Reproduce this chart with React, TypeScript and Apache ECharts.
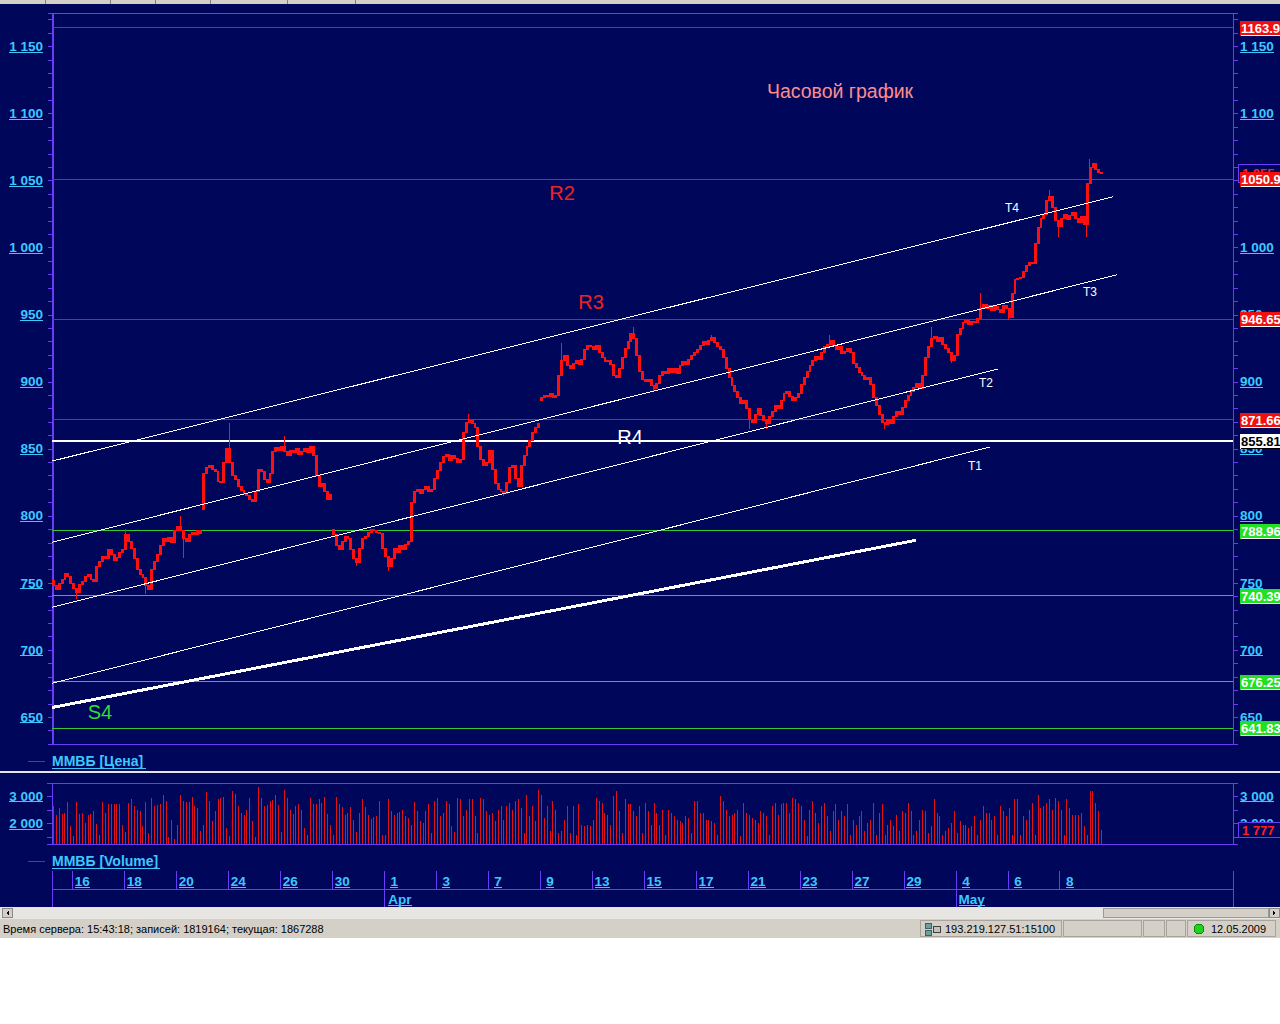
import React, { useEffect, useRef } from "react";
import * as echarts from "echarts";

// ---------- trading days (hourly bars) ----------
const dayDates = [13, 16, 17, 18, 19, 20, 23, 24, 25, 26, 27, 30, 31, 1, 2, 3, 6, 7, 8, 9, 10, 13, 14, 15, 16, 17, 20, 21, 22, 23, 24, 27, 28, 29, 30, 4, 5, 6, 7, 8, 12];
const dayMonths = [3, 3, 3, 3, 3, 3, 3, 3, 3, 3, 3, 3, 3, 4, 4, 4, 4, 4, 4, 4, 4, 4, 4, 4, 4, 4, 4, 4, 4, 4, 4, 4, 4, 4, 4, 5, 5, 5, 5, 5, 5];
const barsPerDay = [7, 9, 9, 9, 9, 9, 9, 9, 9, 9, 9, 9, 9, 9, 9, 9, 9, 9, 9, 9, 9, 9, 9, 9, 9, 9, 9, 9, 9, 9, 9, 9, 9, 9, 9, 9, 9, 9, 9, 9, 6];
const firstHour = [12, 10, 10, 10, 10, 10, 10, 10, 10, 10, 10, 10, 10, 10, 10, 10, 10, 10, 10, 10, 10, 10, 10, 10, 10, 10, 10, 10, 10, 10, 10, 10, 10, 10, 10, 10, 10, 10, 10, 10, 10];
const monthNames: Record<number, string> = { 4: "Apr", 5: "May" };
const TOTAL_SLOTS = 409;

// ---------- ММВБ hourly closes ----------
const closes = [
  748, 745, 750, 753, 757, 755, 750, // 13 Mar
  746, 743, 749, 751, 755, 756, 753, 751, 762, // 16
  766, 770, 768, 775, 771, 767, 769, 773, 775, // 17
  786, 781, 776, 768, 760, 756, 754, 748, 745, // 18
  760, 766, 771, 778, 783, 781, 784, 780, 789, // 19
  792, 789, 783, 781, 786, 788, 786, 789, 787, // 20
  832, 836, 838, 835, 833, 826, 825, 840, 850, // 23
  840, 830, 827, 822, 819, 817, 815, 812, 811, // 24
  818, 835, 833, 827, 825, 832, 848, 851, 849, // 25
  852, 848, 845, 849, 847, 850, 846, 848, 850, // 26
  847, 852, 845, 830, 822, 824, 818, 812, 816, // 27
  786, 778, 775, 781, 785, 783, 775, 768, 765, // 30
  776, 783, 785, 788, 790, 789, 788, 787, 776, // 31
  770, 762, 768, 776, 773, 778, 775, 779, 781, // 1 Apr
  810, 818, 820, 817, 820, 822, 818, 820, 828, // 2
  834, 840, 844, 846, 841, 845, 843, 840, 842, // 3
  862, 870, 871, 869, 866, 852, 842, 838, 840, // 6
  849, 835, 824, 820, 818, 817, 825, 836, 838, // 7
  828, 822, 838, 845, 852, 856, 862, 866, 869, // 8
  888, 890, 889, 891, 888, 890, 905, 916, 920, // 9
  912, 910, 914, 916, 913, 917, 924, 927, 926, // 10
  924, 927, 922, 918, 915, 916, 913, 905, 903, // 13
  910, 918, 925, 930, 936, 932, 920, 908, 902, // 14
  900, 902, 897, 895, 899, 905, 908, 906, 910, // 15
  907, 910, 906, 912, 915, 913, 917, 920, 922, // 16
  924, 927, 930, 928, 931, 933, 929, 926, 924, // 17
  918, 910, 903, 897, 893, 888, 884, 886, 880, // 20
  872, 870, 876, 880, 875, 871, 869, 874, 878, // 21
  882, 880, 886, 891, 893, 889, 886, 888, 891, // 22
  898, 903, 908, 912, 916, 919, 917, 922, 926, // 23
  928, 931, 927, 924, 926, 921, 923, 925, 922, // 24
  914, 911, 907, 905, 902, 903, 898, 888, 882, // 27
  876, 870, 868, 872, 869, 874, 878, 876, 881, // 28
  886, 890, 893, 896, 899, 895, 905, 918, 926, // 29
  932, 934, 930, 933, 928, 925, 922, 916, 920, // 30
  935, 940, 944, 946, 943, 945, 944, 947, 955, // 4 May
  958, 955, 957, 953, 956, 954, 952, 957, 955, // 5
  948, 966, 976, 977, 978, 982, 987, 989, 988, // 6
  1003, 1015, 1022, 1025, 1035, 1038, 1030, 1020, 1016, // 7
  1022, 1025, 1021, 1024, 1026, 1022, 1019, 1023, 1017, // 8
  1048, 1060, 1063, 1058, 1056, 1055, // 12
];
const firstOpen = 752;
const gapOpenIdx = [52, 97, 169];
const gapOpenVal = [805, 790, 886];
const spikeHighIdx = [25, 44, 61, 80, 144, 176, 201, 228, 269, 304, 321, 345, 359];
const spikeHighVal = [790, 800, 869, 860, 876, 929, 941, 935, 935, 941, 966, 1043, 1066];
const spikeLowIdx = [8, 32, 45, 105, 116, 156, 208, 241, 247, 288, 311, 331, 348, 358];
const spikeLowVal = [738, 742, 769, 763, 759, 815, 893, 865, 865, 865, 914, 946, 1008, 1008];

// ---------- volume ----------
const volumes = [
  2630, 2300, 2570, 2350, 2390, 2780, 1900, 1540, 2790, 2370,
  2390, 2020, 2330, 2350, 2450, 2000, 1600, 2790, 2390, 2720,
  2720, 2720, 2720, 2700, 1960, 1700, 2760, 2880, 2630, 2510,
  2450, 1900, 2790, 1660, 2920, 2630, 2670, 2700, 3040, 2820,
  1500, 2150, 1450, 1960, 3040, 2820, 2790, 2790, 2960, 2630,
  2570, 1720, 1960, 3150, 2840, 2090, 2450, 2880, 2940, 2960,
  1840, 1540, 3180, 3090, 2630, 2390, 2300, 2480, 2940, 2090,
  1500, 3330, 2940, 2630, 2670, 2840, 2850, 3040, 2670, 1700,
  3230, 2940, 2480, 2350, 2630, 2700, 2500, 1840, 1600, 2920,
  2720, 2700, 2880, 2760, 2960, 2350, 1960, 1570, 2960, 2700,
  2600, 2330, 2390, 2600, 2150, 1700, 2390, 2880, 2600, 2330,
  2180, 2230, 2270, 2820, 1600, 1600, 2910, 2450, 2330, 2390,
  2430, 2500, 2270, 2210, 1960, 2790, 2450, 2090,
  2020, 2450, 2700, 1660, 2820, 2940, 2270, 2390, 2820, 2700,
  1900, 1680, 2950, 2880, 2270, 2510, 2880, 2880, 2270, 1660,
  2950, 2880, 2450, 2330, 2390, 2090, 2510, 2630, 2150, 2630,
  2760, 2510, 2820, 2880, 2570, 1660, 3060, 2270, 2630, 2090,
  3240, 3060, 2210, 2630, 1720, 2820, 2510, 1660, 1720, 2150,
  2630, 1660, 2630, 1600, 2700, 1960, 1900, 1960, 1900, 2150,
  2940, 2820, 2760, 2390, 2330, 1960, 3000, 3180, 2450, 1660,
  2880, 2700, 2700, 2450, 2270, 2630, 1660, 2760, 2450, 1960,
  2760, 2390, 1960, 2510, 1600, 2510, 2390, 2270, 2150, 2090,
  2020, 2270, 2210, 1660, 2820, 2820, 2390, 2390, 2150, 2150,
  2090, 2020, 1600, 3000, 2820, 2510, 2270, 2330, 2390, 2510,
  1540, 2760, 2390, 2330, 2210, 2150, 2020, 2450, 2390, 2270,
  1600, 2630, 2760, 2330, 2700, 2760, 2760, 2390, 2940, 2880,
  2760, 2630, 2150, 1540, 2510, 2820, 2390, 2020, 2630, 2760,
  2270, 1720, 2450, 2700, 2150,
  2450, 2270, 2700, 1600, 2150, 1960, 2270, 2450, 1720, 2020,
  2150, 2760, 1600, 2390, 2700, 1600, 1960, 2150, 1900, 2330,
  1720, 2450, 2390, 2760, 2450, 1600, 1720, 2150, 2510, 2450,
  1660, 1900, 2880, 2390, 2270, 1600, 1720, 1840, 2020, 2450,
  1660, 2090, 1960, 1960, 1840, 1900, 2270, 1600, 2150, 2630,
  2390, 2390, 2150, 2270, 1600, 2630, 2450, 2270, 2570, 1600,
  2880, 2880, 1600, 2270, 2150, 2510, 2760, 1600, 3060, 2570,
  2630, 2760, 2880, 2510, 2940, 2820, 2510, 1600, 2880, 2570,
  2330, 2330, 2330, 2390, 1900, 1600, 3180, 3180, 2760, 2450,
  1777,
];

// ---------- levels & trend lines ----------
const levelValues = [1163.9, 1050.9, 946.65, 871.66, 855.81, 788.96, 740.39, 676.25, 641.83];
const levelKinds = ["r", "r", "r", "r", "w", "g", "g", "g", "g"];
const trendX0 = [-0.5, -0.5, -0.5, -0.5, -0.5];
const trendY0 = [840.9, 780.4, 731.9, 675.2, 657.2];
const trendX1 = [366.9, 368.3, 327.1, 324.3, 298.7];
const trendY1 = [1038.0, 979.8, 909.6, 851.4, 781.9];
const trendWidth = [1, 1, 1, 1, 3];

// ---------- styling ----------
const NAVY = "#00065a";
const VIOLET = "#6a3cf5";
const CYAN = "#3cc8ff";
const FONT = "'Liberation Sans', Arial, sans-serif";
const RED = "#ff1010";
const LABEL_SIZE = 13.5;

const fmtNum = (v: number) => {
  const r = Math.round(v);
  const s = String(r);
  return r >= 1000 ? s.slice(0, s.length - 3) + " " + s.slice(-3) : s;
};

const text = (t: string, x: number, y: number, fill: string, size: number, extra: any = {}, z = 10) => ({
  type: "text", x, y, silent: true, z,
  style: { text: t, fill, fontSize: size, fontFamily: FONT, align: "center", verticalAlign: "middle", ...extra },
});
const rect = (x: number, y: number, w: number, h: number, fill: string, stroke?: string, z = 10) => ({
  type: "rect", silent: true, z,
  shape: { x, y, width: w, height: h },
  style: { fill, stroke: stroke || null, lineWidth: 1 },
});
const line = (x1: number, y1: number, x2: number, y2: number, stroke: string, w = 1, z = 10) => ({
  type: "line", silent: true, z,
  shape: { x1, y1, x2, y2 },
  style: { stroke, lineWidth: w },
});

function buildModel() {
  const cats: string[] = [];
  const dayStart: number[] = [];
  dayDates.forEach((d, k) => {
    dayStart.push(cats.length);
    for (let h = 0; h < barsPerDay[k]; h++) {
      cats.push(`${d}.${dayMonths[k]} ${firstHour[k] + h}:00`);
    }
  });
  const nBars = cats.length;
  for (let i = nBars; i < TOTAL_SLOTS; i++) cats.push(`slot ${i}`);

  const daySep = new Set<number>();
  const dayLabel = new Map<number, string>();
  for (let k = 1; k < dayDates.length - 1; k += 2) {
    daySep.add(dayStart[k]);
    dayLabel.set(dayStart[k] + 3, String(dayDates[k]));
  }
  const monthSep = new Set<number>();
  const monthLabel = new Map<number, string>();
  for (let k = 1; k < dayDates.length; k++) {
    if (dayMonths[k] !== dayMonths[k - 1] && monthNames[dayMonths[k]]) {
      monthSep.add(dayStart[k]);
      monthLabel.set(dayStart[k] + 5, monthNames[dayMonths[k]]);
    }
  }
  return { cats, daySep, dayLabel, monthSep, monthLabel };
}

const levelColor = (kind: string) => (kind === "r" ? "#d8141e" : kind === "w" ? "#ffffff" : "#34c834");

function buildOption(m: ReturnType<typeof buildModel>) {
  const { cats, daySep, dayLabel, monthSep, monthLabel } = m;

  const ohlc = closes.map((c, i) => {
    const gi = gapOpenIdx.indexOf(i);
    const o = gi >= 0 ? gapOpenVal[gi] : i === 0 ? firstOpen : closes[i - 1];
    const hi = spikeHighIdx.indexOf(i);
    const lo = spikeLowIdx.indexOf(i);
    const high = Math.max(o, c, hi >= 0 ? spikeHighVal[hi] : -Infinity);
    const low = Math.min(o, c, lo >= 0 ? spikeLowVal[lo] : Infinity);
    return [o, c, low, high];
  });

  const labelBase = { fontFamily: FONT, fontWeight: "bold", fontSize: LABEL_SIZE, color: CYAN };

  const levelSeries = levelValues.map((v, k) => ({
    type: "line",
    name: "level " + v,
    xAxisIndex: 1,
    yAxisIndex: 0,
    data: [[-0.5, v], [TOTAL_SLOTS - 0.5, v]],
    symbol: "none",
    silent: true,
    z: 2,
    color: levelColor(levelKinds[k]),
    itemStyle: { color: levelColor(levelKinds[k]) },
    lineStyle: { color: levelColor(levelKinds[k]), width: levelKinds[k] === "w" ? 2 : 1, opacity: 1 },
  }));

  const trendSeries = trendX0.map((x0, k) => ({
    type: "line",
    xAxisIndex: 1,
    yAxisIndex: 0,
    data: [[x0, trendY0[k]], [trendX1[k], trendY1[k]]],
    symbol: "none",
    silent: true,
    z: 4,
    color: "#ffffff",
    lineStyle: { color: "#ffffff", width: trendWidth[k] },
  }));

  const priceFmt = (v: number) => (Math.round(v) % 50 === 0 ? fmtNum(v) : "");
  const volFmt = (v: number) => (Math.round(v) % 1000 === 0 ? fmtNum(v) : "");

  const priceY = (pos: string, margin: number) => ({
    type: "value", gridIndex: 0, min: 630, max: 1175, interval: 10, position: pos,
    axisLine: { show: true, lineStyle: { color: VIOLET } },
    axisTick: { show: true, length: 5, lineStyle: { color: VIOLET } },
    splitLine: { show: false },
    axisLabel: { ...labelBase, margin, formatter: priceFmt },
  });
  const volY = (pos: string, margin: number) => ({
    type: "value", gridIndex: 1, min: 1260, max: 3480, splitNumber: 5, position: pos,
    axisLine: { show: true, lineStyle: { color: VIOLET } },
    axisTick: { show: true, length: 5, lineStyle: { color: VIOLET } },
    splitLine: { show: false },
    axisLabel: { ...labelBase, margin, formatter: volFmt },
  });
  const dummyY = (g: number) => ({
    type: "value", gridIndex: g, min: 0, max: 1,
    axisLine: { show: true, lineStyle: { color: VIOLET } },
    axisTick: { show: false }, axisLabel: { show: false }, splitLine: { show: false },
  });

  return {
    animation: false,
    backgroundColor: NAVY,
    grid: [
      { left: 52, top: 13, width: 1181, height: 731, show: true, borderColor: VIOLET, borderWidth: 1, backgroundColor: "transparent" },
      { left: 52, top: 783, width: 1181, height: 61, show: true, borderColor: VIOLET, borderWidth: 1, backgroundColor: "transparent" },
      { left: 52, top: 871, width: 1181, height: 18 },
      { left: 52, top: 889, width: 1181, height: 18 },
    ],
    xAxis: [
      { type: "category", gridIndex: 0, data: cats, show: false },
      { type: "value", gridIndex: 0, min: -0.5, max: TOTAL_SLOTS - 0.5, show: false },
      { type: "category", gridIndex: 1, data: cats, show: false },
      {
        type: "category", gridIndex: 2, data: cats, position: "top",
        axisLine: { show: true, lineStyle: { color: VIOLET } },
        axisTick: { show: false },
        splitLine: { show: true, interval: (i: number) => daySep.has(i), lineStyle: { color: VIOLET, width: 1 } },
        axisLabel: { ...labelBase, inside: true, margin: 3, interval: (i: number) => dayLabel.has(i), formatter: (_v: string, i: number) => dayLabel.get(i) || "" },
      },
      {
        type: "category", gridIndex: 3, data: cats, position: "top",
        axisLine: { show: true, lineStyle: { color: VIOLET } },
        axisTick: { show: false },
        splitLine: { show: true, interval: (i: number) => monthSep.has(i), lineStyle: { color: VIOLET, width: 1 } },
        axisLabel: { ...labelBase, inside: true, margin: 3, interval: (i: number) => monthLabel.has(i), formatter: (_v: string, i: number) => monthLabel.get(i) || "" },
      },
    ],
    yAxis: [priceY("left", 9), priceY("right", 7), volY("left", 9), volY("right", 7), dummyY(2), dummyY(3)],
    series: [
      ...levelSeries,
      {
        type: "candlestick",
        xAxisIndex: 0,
        yAxisIndex: 0,
        data: ohlc,
        barWidth: 2.4,
        z: 3,
        itemStyle: { color: RED, color0: RED, borderColor: RED, borderColor0: RED, borderWidth: 1 },
      },
      {
        type: "bar",
        xAxisIndex: 2,
        yAxisIndex: 2,
        data: volumes,
        barWidth: 1,
        itemStyle: { color: "#e41018" },
      },
      ...trendSeries,
    ],
    graphic: baseGraphic(),
  };
}

function baseGraphic(): any[] {
  return [
    // window chrome
    rect(0, 0, 1280, 4, "#d4d0c8"),
    line(45, 0, 45, 4, "#808080"), line(110, 0, 110, 4, "#808080"), line(155, 0, 155, 4, "#808080"),
    line(210, 0, 210, 4, "#808080"), line(287, 0, 287, 4, "#808080"), line(355, 0, 355, 4, "#808080"),
    rect(0, 771, 1280, 2, "#e4e4e4"),
    // legends
    line(28, 761, 45, 761, "#e01010"),
    text("ММВБ [Цена]", 52, 761, CYAN, 14, { align: "left", fontWeight: "bold" }),
    line(52, 768, 146, 768, CYAN),
    line(28, 861, 45, 861, "#e01010"),
    text("ММВБ [Volume]", 52, 861, CYAN, 14, { align: "left", fontWeight: "bold" }),
    line(52, 868, 160, 868, CYAN),
    // annotations
    text("Часовой график", 840, 91, "#ff8c8c", 19.5),
    text("R2", 562, 193, "#ee2222", 20),
    text("R3", 591, 302, "#ee2222", 20),
    text("R4", 630, 437, "#ffffff", 20),
    text("S4", 100, 712, "#33dd33", 20),
    text("T4", 1012, 208, "#ffffff", 12),
    text("T3", 1090, 292, "#ffffff", 12),
    text("T2", 986, 383, "#ffffff", 12),
    text("T1", 975, 466, "#ffffff", 12),
    // scrollbar
    rect(0, 907, 1280, 12, "#e8e6e2"),
    rect(2.5, 908.5, 10, 9, "#d4d0c8", "#8a8a8a"),
    { type: "polygon", silent: true, z: 11, shape: { points: [[9, 910.5], [9, 915.5], [6, 913]] }, style: { fill: "#000" } },
    rect(1103.5, 908.5, 165, 9, "#d4d0c8", "#9a9a9a"),
    rect(1269.5, 908.5, 10, 9, "#d4d0c8", "#8a8a8a"),
    { type: "polygon", silent: true, z: 11, shape: { points: [[1273, 910.5], [1273, 915.5], [1276, 913]] }, style: { fill: "#000" } },
    // status bar
    rect(0, 919, 1280, 19, "#d4d0c8"),
    rect(0, 938, 1280, 86, "#ffffff"),
    text("Время сервера: 15:43:18; записей: 1819164; текущая: 1867288", 3, 929, "#000000", 11, { align: "left" }),
    rect(920.5, 920.5, 141, 16, "none", "#a8a49c"),
    rect(925, 923, 6, 5, "#6aa0a0", "#406060"),
    rect(925, 930, 6, 5, "#6aa0a0", "#406060"),
    rect(933, 926, 7, 6, "#c0c0c0", "#404040"),
    text("193.219.127.51:15100", 945, 929, "#000000", 11, { align: "left" }),
    rect(1063.5, 920.5, 78, 16, "none", "#a8a49c"),
    rect(1143.5, 920.5, 21, 16, "none", "#a8a49c"),
    rect(1166.5, 920.5, 19, 16, "none", "#a8a49c"),
    rect(1187.5, 920.5, 88, 16, "none", "#a8a49c"),
    { type: "circle", silent: true, z: 11, shape: { cx: 1199, cy: 929, r: 5 }, style: { fill: "#1ed21e", stroke: "#0a8a0a" } },
    text("12.05.2009", 1211, 929, "#000000", 11, { align: "left" }),
  ];
}

// axis-label underlines and right-edge value tags, positioned through the axes' own scales
function extras(chart: any, m: ReturnType<typeof buildModel>): any[] {
  const ctx = document.createElement("canvas").getContext("2d");
  if (!ctx) return [];
  ctx.font = `bold ${LABEL_SIZE}px 'Liberation Sans', Arial, sans-serif`;
  const out: any[] = [];
  const addY = (axisIdx: number, values: number[]) => {
    values.forEach((v) => {
      const y = Math.round(chart.convertToPixel({ yAxisIndex: axisIdx }, v)) + 5.5;
      const w = ctx.measureText(fmtNum(v)).width;
      out.push(line(43 - w, y, 43, y, CYAN, 1, 1));
      out.push(line(1240, y, 1240 + w, y, CYAN, 1, 1));
    });
  };
  const pv: number[] = [];
  for (let v = 650; v <= 1150; v += 50) pv.push(v);
  addY(0, pv);
  addY(2, [2000, 3000]);
  m.dayLabel.forEach((t, i) => {
    const x = chart.convertToPixel({ xAxisIndex: 3 }, i);
    const w = ctx.measureText(t).width;
    out.push(line(x - w / 2, 887.5, x + w / 2, 887.5, CYAN, 1, 1));
  });
  m.monthLabel.forEach((t, i) => {
    const x = chart.convertToPixel({ xAxisIndex: 4 }, i);
    const w = ctx.measureText(t).width;
    out.push(line(x - w / 2, 905.5, x + w / 2, 905.5, CYAN, 1, 1));
  });

  // last price box (behind the level tags)
  const lastClose = closes[closes.length - 1];
  const py = Math.round(chart.convertToPixel({ yAxisIndex: 0 }, lastClose));
  out.push(rect(1238.5, py - 9.5, 44, 18, NAVY, VIOLET, 11));
  out.push(text(fmtNum(lastClose), 1242, py - 1, "#ff2020", 13, { align: "left", fontWeight: "bold" }, 11));

  // level tags
  levelValues.forEach((v, k) => {
    const kind = levelKinds[k];
    const bg = kind === "r" ? "#f01010" : kind === "w" ? "#ffffff" : "#22e022";
    const fg = kind === "w" ? "#000000" : "#ffffff";
    const y = Math.round(chart.convertToPixel({ yAxisIndex: 0 }, v));
    out.push(rect(1240, y - 7, 44, 15, bg, undefined, 12));
    out.push(text(String(v), 1241, y + 0.5, fg, 13, { align: "left", fontWeight: "bold" }, 13));
    out.push(line(1241, y + 7.5, 1284, y + 7.5, fg, 1, 13));
  });

  // last-volume tag on the right of the volume panel
  const lastVol = volumes[volumes.length - 1];
  const vy = Math.round(chart.convertToPixel({ yAxisIndex: 2 }, lastVol));
  out.push(rect(1238.5, vy - 7.5, 44, 15, NAVY, VIOLET, 12));
  out.push(text(fmtNum(lastVol), 1242, vy, "#ff2020", 13, { align: "left", fontWeight: "bold" }, 13));
  return out;
}

export default function App() {
  const ref = useRef<HTMLDivElement>(null);
  useEffect(() => {
    if (!ref.current) return;
    const chart = echarts.init(ref.current, null, { renderer: "svg" });
    const model = buildModel();
    chart.setOption(buildOption(model) as any);
    try {
      const extra = extras(chart, model);
      chart.setOption({ graphic: [...baseGraphic(), ...extra] } as any, { replaceMerge: ["graphic"] } as any);
    } catch (e) {
      // keep the chart without extras
    }
    return () => chart.dispose();
  }, []);
  return (
    <>
      <style>{`svg path { shape-rendering: crispEdges; }`}</style>
      <div ref={ref} style={{ position: "fixed", left: 0, top: 0, width: 1280, height: 1024 }} />
    </>
  );
}
